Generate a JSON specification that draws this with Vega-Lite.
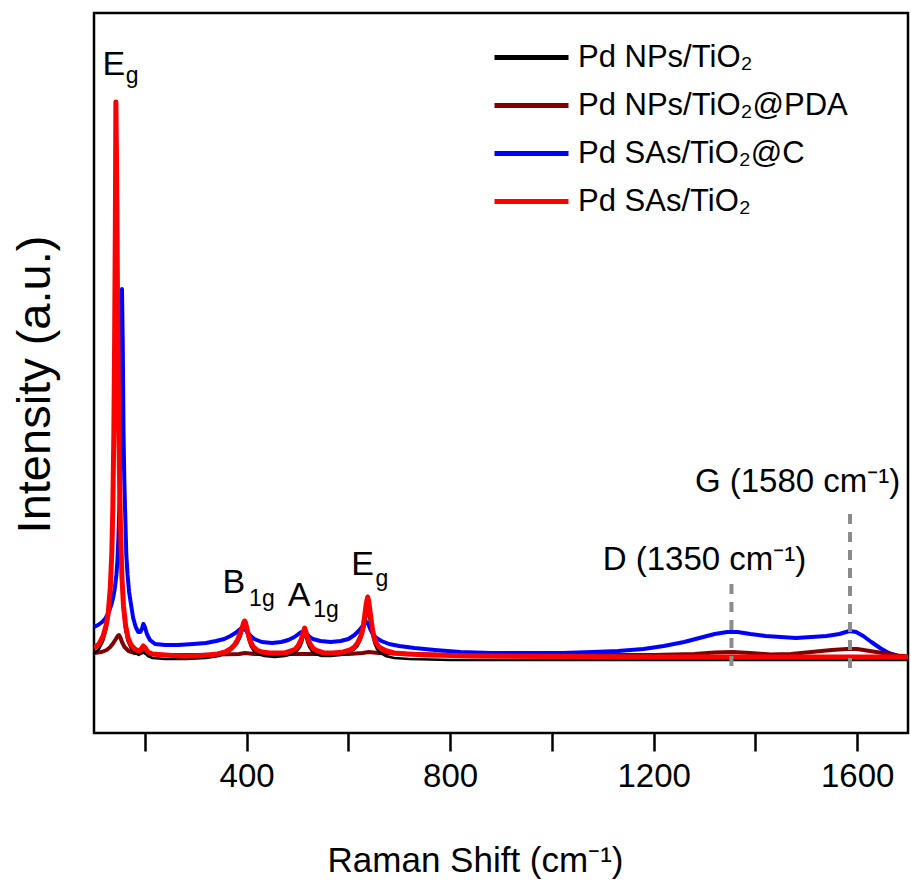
{
  "$schema": "https://vega.github.io/schema/vega-lite/v6.json",
  "width": 814,
  "height": 720,
  "autosize": {"type": "none"},
  "padding": {"left": 94, "top": 13, "right": 3, "bottom": 150},
  "background": "white",
  "config": {
    "view": {"stroke": "black", "strokeWidth": 2.5},
    "font": "Liberation Sans",
    "text": {"font": "Liberation Sans", "color": "black"}
  },
  "datasets": {
    "blue": [
      {"x":100,"y":106},{"x":108,"y":108},{"x":116,"y":111},{"x":123,"y":115},{"x":129,"y":121},{"x":134,"y":128},{"x":138,"y":136},{"x":141,"y":145},{"x":144,"y":158},{"x":146,"y":172},{"x":148,"y":195},{"x":150,"y":230},{"x":152,"y":285},{"x":153.5,"y":350},{"x":155,"y":444},{"x":156.5,"y":390},{"x":158,"y":300},{"x":159.5,"y":255},{"x":161,"y":225},{"x":163.5,"y":178},{"x":166,"y":158},{"x":169,"y":141},{"x":172,"y":131},{"x":177,"y":115},{"x":182,"y":106},{"x":187,"y":101},{"x":191,"y":101},{"x":194,"y":104},{"x":197,"y":109},{"x":200,"y":106},{"x":204,"y":99},{"x":210,"y":93},{"x":220,"y":89},{"x":240,"y":88},{"x":265,"y":88},{"x":295,"y":89},{"x":320,"y":90},{"x":340,"y":92},{"x":356,"y":94},{"x":368,"y":97},{"x":378,"y":100},{"x":385,"y":103},{"x":390,"y":105},{"x":393,"y":105},{"x":396,"y":104},{"x":400,"y":102},{"x":406,"y":98},{"x":415,"y":94},{"x":430,"y":91},{"x":450,"y":90},{"x":468,"y":91},{"x":482,"y":93},{"x":494,"y":96},{"x":502,"y":99},{"x":508,"y":101},{"x":512,"y":101},{"x":516,"y":100},{"x":522,"y":97},{"x":530,"y":94},{"x":545,"y":92},{"x":565,"y":91},{"x":585,"y":92},{"x":600,"y":94},{"x":612,"y":98},{"x":622,"y":103},{"x":628,"y":107},{"x":633,"y":110},{"x":636,"y":111},{"x":639,"y":109},{"x":643,"y":104},{"x":648,"y":99},{"x":655,"y":95},{"x":665,"y":92},{"x":680,"y":89},{"x":700,"y":87},{"x":730,"y":85},{"x":770,"y":83},{"x":820,"y":81},{"x":880,"y":80},{"x":950,"y":80},{"x":1020,"y":80},{"x":1080,"y":81},{"x":1130,"y":82},{"x":1180,"y":84},{"x":1220,"y":87},{"x":1260,"y":91},{"x":1290,"y":95},{"x":1320,"y":99},{"x":1345,"y":101},{"x":1365,"y":101},{"x":1390,"y":99},{"x":1420,"y":97},{"x":1450,"y":96},{"x":1480,"y":95},{"x":1510,"y":96},{"x":1540,"y":97},{"x":1565,"y":99},{"x":1585,"y":102},{"x":1598,"y":101},{"x":1612,"y":97},{"x":1628,"y":91},{"x":1645,"y":85},{"x":1662,"y":80},{"x":1680,"y":77},{"x":1700,"y":76}
    ],
    "darkred": [
      {"x":100,"y":80},{"x":115,"y":81},{"x":125,"y":83},{"x":132,"y":86},{"x":138,"y":90},{"x":143,"y":94},{"x":146.5,"y":97},{"x":149,"y":98},{"x":151.5,"y":96},{"x":155,"y":91},{"x":160,"y":86},{"x":168,"y":82},{"x":180,"y":80},{"x":192,"y":80},{"x":197,"y":81},{"x":202,"y":80},{"x":230,"y":78},{"x":300,"y":78},{"x":385,"y":79},{"x":397,"y":80},{"x":415,"y":79},{"x":510,"y":79},{"x":525,"y":79},{"x":600,"y":79},{"x":628,"y":80},{"x":640,"y":81},{"x":660,"y":80},{"x":800,"y":78},{"x":1000,"y":78},{"x":1100,"y":78},{"x":1200,"y":78},{"x":1280,"y":79},{"x":1320,"y":80.5},{"x":1355,"y":81},{"x":1390,"y":80},{"x":1430,"y":78.5},{"x":1470,"y":79},{"x":1510,"y":81},{"x":1550,"y":83},{"x":1580,"y":84},{"x":1600,"y":84},{"x":1625,"y":82},{"x":1650,"y":80},{"x":1680,"y":77.5},{"x":1700,"y":76.5}
    ],
    "black": [
      {"x":100,"y":80},{"x":110,"y":84},{"x":118,"y":92},{"x":124,"y":103},{"x":128,"y":115},{"x":132,"y":140},{"x":135,"y":175},{"x":137,"y":220},{"x":139,"y":290},{"x":141,"y":390},{"x":142.5,"y":480},{"x":144,"y":555},{"x":145.5,"y":480},{"x":147,"y":380},{"x":149,"y":290},{"x":151,"y":220},{"x":154,"y":160},{"x":157,"y":125},{"x":161,"y":104},{"x":166,"y":92},{"x":172,"y":85},{"x":180,"y":80},{"x":188,"y":78},{"x":194,"y":80},{"x":197,"y":82},{"x":200,"y":80},{"x":206,"y":77},{"x":215,"y":75},{"x":240,"y":74},{"x":280,"y":74},{"x":320,"y":75},{"x":345,"y":77},{"x":360,"y":80},{"x":372,"y":84},{"x":381,"y":89},{"x":387,"y":95},{"x":391,"y":101},{"x":394,"y":105},{"x":396,"y":107},{"x":398,"y":105},{"x":401,"y":99},{"x":404,"y":93},{"x":408,"y":87},{"x":414,"y":82},{"x":422,"y":79},{"x":435,"y":77},{"x":455,"y":76},{"x":475,"y":77},{"x":490,"y":79},{"x":499,"y":82},{"x":505,"y":86},{"x":509,"y":91},{"x":512,"y":96},{"x":514,"y":100},{"x":516,"y":97},{"x":519,"y":91},{"x":523,"y":86},{"x":528,"y":82},{"x":535,"y":79},{"x":548,"y":77},{"x":565,"y":77},{"x":585,"y":78},{"x":600,"y":80},{"x":610,"y":83},{"x":618,"y":87},{"x":624,"y":93},{"x":629,"y":101},{"x":633,"y":110},{"x":636,"y":118},{"x":638,"y":122},{"x":640,"y":119},{"x":643,"y":110},{"x":647,"y":98},{"x":651,"y":90},{"x":656,"y":84},{"x":663,"y":80},{"x":673,"y":77},{"x":690,"y":75},{"x":720,"y":74},{"x":800,"y":73},{"x":1000,"y":73},{"x":1200,"y":73},{"x":1400,"y":73},{"x":1600,"y":73},{"x":1700,"y":73}
    ],
    "red": [
      {"x":100,"y":85},{"x":110,"y":89},{"x":118,"y":97},{"x":124,"y":108},{"x":128,"y":120},{"x":132,"y":145},{"x":135,"y":180},{"x":137,"y":225},{"x":139,"y":300},{"x":140.5,"y":390},{"x":142,"y":510},{"x":143,"y":631},{"x":144.5,"y":560},{"x":146,"y":450},{"x":148,"y":340},{"x":150,"y":260},{"x":152,"y":205},{"x":155,"y":155},{"x":158,"y":127},{"x":162,"y":108},{"x":167,"y":95},{"x":173,"y":88},{"x":180,"y":84},{"x":188,"y":82},{"x":193,"y":84},{"x":197,"y":87},{"x":201,"y":85},{"x":206,"y":81},{"x":215,"y":79},{"x":240,"y":78},{"x":270,"y":77},{"x":300,"y":77},{"x":325,"y":78},{"x":343,"y":79},{"x":358,"y":81},{"x":368,"y":84},{"x":376,"y":88},{"x":382,"y":93},{"x":387,"y":99},{"x":391,"y":105},{"x":394,"y":110},{"x":396,"y":112},{"x":398,"y":110},{"x":401,"y":104},{"x":404,"y":97},{"x":408,"y":91},{"x":413,"y":86},{"x":420,"y":83},{"x":430,"y":81},{"x":445,"y":80},{"x":460,"y":80},{"x":475,"y":80},{"x":487,"y":82},{"x":496,"y":84},{"x":502,"y":88},{"x":507,"y":93},{"x":510,"y":98},{"x":512,"y":102},{"x":514,"y":105},{"x":516,"y":102},{"x":519,"y":97},{"x":522,"y":92},{"x":526,"y":88},{"x":532,"y":84},{"x":540,"y":82},{"x":552,"y":80},{"x":570,"y":80},{"x":590,"y":81},{"x":603,"y":83},{"x":612,"y":86},{"x":618,"y":90},{"x":622,"y":94},{"x":626,"y":99},{"x":629,"y":106},{"x":632,"y":117},{"x":635,"y":129},{"x":637,"y":134},{"x":638,"y":136},{"x":640,"y":132},{"x":642,"y":124},{"x":645,"y":112},{"x":648,"y":102},{"x":651,"y":95},{"x":655,"y":90},{"x":660,"y":86},{"x":667,"y":84},{"x":676,"y":82},{"x":690,"y":80},{"x":715,"y":79},{"x":760,"y":78},{"x":850,"y":77},{"x":1000,"y":76.5},{"x":1200,"y":76},{"x":1400,"y":76},{"x":1600,"y":76},{"x":1700,"y":76}
    ],
    "bandlines": [
      {"x":1353,"y":67,"y2":150},{"x":1586,"y":65,"y2":226}
    ],
    "letters": [
      {"label":"E","x":139,"y":668},{"label":"B","x":375,"y":150},{"label":"A","x":503,"y":137},{"label":"E","x":628,"y":168}
    ],
    "subs": [
      {"label":"g","x":175,"y":657},{"label":"1g","x":430,"y":134},{"label":"1g","x":556,"y":123},{"label":"g","x":666,"y":154}
    ],
    "bands": [
      {"label":"D (1350 cm⁻¹)","x":1300,"y":173},{"label":"G (1580 cm⁻¹)","x":1483,"y":251}
    ]
  },
  "encoding": {
    "x": {
      "field": "x", "type": "quantitative",
      "scale": {"domain": [100, 1700], "nice": false, "zero": false},
      "axis": {
        "values": [200, 400, 600, 800, 1000, 1200, 1400, 1600],
        "format": "d",
        "labelExpr": "datum.value % 400 === 0 ? datum.label : ''",
        "tickSize": 18,
        "tickWidth": 2.5,
        "tickColor": "black",
        "domain": false,
        "grid": false,
        "labelFont": "Liberation Sans",
        "labelFontSize": 33,
        "labelColor": "black",
        "labelPadding": 9,
        "title": "Raman Shift (cm⁻¹)",
        "titleFont": "Liberation Sans",
        "titleFontSize": 35,
        "titleFontWeight": "normal",
        "titleColor": "black",
        "titleX": 381,
        "titleY": 127,
        "titleBaseline": "middle",
        "titleAlign": "center",
        "encode": {"ticks": {"update": {"y2": {"signal": "datum.value % 400 === 0 ? 18 : 10"}}}}
      }
    },
    "y": {
      "field": "y", "type": "quantitative",
      "scale": {"domain": [0, 720], "nice": false, "zero": false},
      "axis": {
        "ticks": false, "labels": false, "domain": false, "grid": false,
        "title": "Intensity (a.u.)",
        "titleFont": "Liberation Sans",
        "titleFontSize": 47,
        "titleFontWeight": "normal",
        "titleColor": "black",
        "titleAngle": -90,
        "titleX": -59,
        "titleY": 371,
        "titleBaseline": "middle",
        "titleAlign": "center"
      }
    }
  },
  "layer": [
    {
      "data": {"name": "blue"},
      "mark": {"type": "line", "strokeWidth": 4, "strokeJoin": "round", "clip": true},
      "encoding": {
        "color": {
          "datum": "Pd SAs/TiO₂@C",
          "scale": {
            "domain": ["Pd NPs/TiO₂", "Pd NPs/TiO₂@PDA", "Pd SAs/TiO₂@C", "Pd SAs/TiO₂"],
            "range": ["#000000", "#800000", "#0000ff", "#ff0000"]
          },
          "legend": {
            "title": null,
            "orient": "none",
            "legendX": 422,
            "legendY": 29,
            "symbolType": "M-3.7,0H3.7",
            "symbolSize": 400,
            "symbolStrokeWidth": 5,
            "labelFont": "Liberation Sans",
            "labelFontSize": 31,
            "labelColor": "black",
            "labelOffset": 31,
            "labelLimit": 400,
            "rowPadding": 16
          }
        }
      }
    },
    {
      "data": {"name": "darkred"},
      "mark": {"type": "line", "strokeWidth": 4, "strokeJoin": "round", "clip": true},
      "encoding": {"color": {"datum": "Pd NPs/TiO₂@PDA"}}
    },
    {
      "data": {"name": "black"},
      "mark": {"type": "line", "strokeWidth": 2.5, "strokeJoin": "round", "clip": true},
      "encoding": {"color": {"datum": "Pd NPs/TiO₂"}}
    },
    {
      "data": {"name": "red"},
      "mark": {"type": "line", "strokeWidth": 5, "strokeJoin": "round", "clip": true},
      "encoding": {"color": {"datum": "Pd SAs/TiO₂"}}
    },
    {
      "data": {"name": "bandlines"},
      "mark": {"type": "rule", "color": "#8c8c8c", "strokeWidth": 4, "strokeDash": [10, 8]},
      "encoding": {"y2": {"field": "y2"}}
    },
    {
      "data": {"name": "letters"},
      "mark": {"type": "text", "fontSize": 34, "align": "center", "baseline": "middle", "color": "black"},
      "encoding": {"text": {"field": "label"}}
    },
    {
      "data": {"name": "subs"},
      "mark": {"type": "text", "fontSize": 23, "align": "center", "baseline": "middle", "color": "black"},
      "encoding": {"text": {"field": "label"}}
    },
    {
      "data": {"name": "bands"},
      "mark": {"type": "text", "fontSize": 33, "align": "center", "baseline": "middle", "color": "black"},
      "encoding": {"text": {"field": "label"}}
    }
  ]
}
